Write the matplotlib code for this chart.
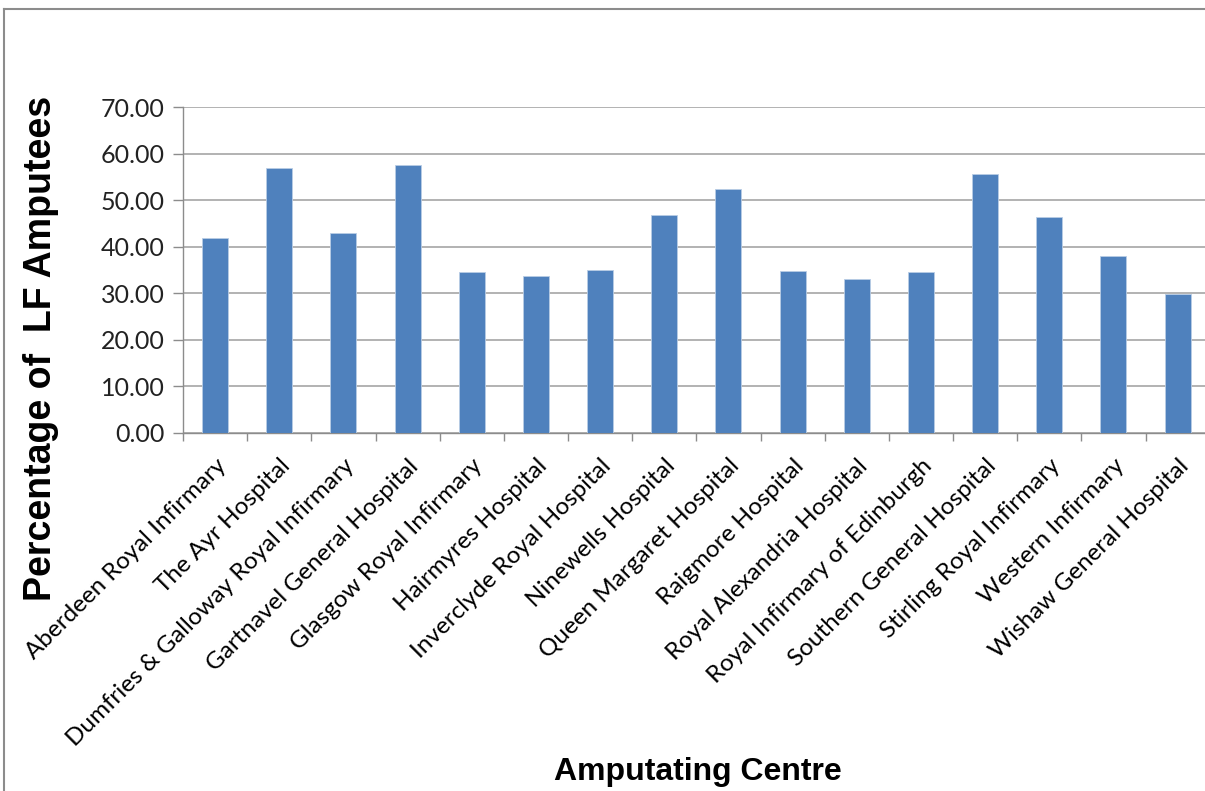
import matplotlib.pyplot as plt
import numpy as np
from matplotlib.lines import Line2D

# Amputating centres and percentage of LF amputees
centres = ['Aberdeen Royal Infirmary', 'The Ayr Hospital',
           'Dumfries & Galloway Royal Infirmary', 'Gartnavel General Hospital',
           'Glasgow Royal Infirmary', 'Hairmyres Hospital',
           'Inverclyde Royal Hospital', 'Ninewells Hospital',
           'Queen Margaret Hospital', 'Raigmore Hospital',
           'Royal Alexandria Hospital', 'Royal Infirmary of Edinburgh',
           'Southern General Hospital', 'Stirling Royal Infirmary',
           'Western Infirmary', 'Wishaw General Hospital']
percent_lf = [41.9, 56.8, 43.0, 57.6, 34.5, 33.7, 35.0, 46.9,
              52.3, 34.7, 33.1, 34.5, 55.7, 46.3, 38.0, 29.9]
y_ticks = [0, 10, 20, 30, 40, 50, 60, 70]

fig = plt.figure(figsize=(12.05, 7.91), dpi=100)
# plot area runs slightly past the right edge, as in the original export
ax = fig.add_axes([0.1519, 0.4526, 0.852, 0.4121])

x = np.arange(len(centres))
ax.bar(x, percent_lf, width=0.405, color='#4F81BD', edgecolor='#B9CDE5',
       linewidth=0.6, zorder=3)

ax.set_xlim(-0.5, len(centres) - 0.5)
ax.set_ylim(0, 70)
ax.set_yticks(y_ticks)
ax.set_yticklabels([f'{v:.2f}' for v in y_ticks], fontfamily='Lato',
                   fontsize=18, color='#222222')
ax.yaxis.grid(True, color='#A6A6A6', linewidth=1.2, zorder=0)

ax.set_xticks(x)
ax.set_xticklabels(centres, rotation=45, ha='right', va='top',
                   rotation_mode='anchor', fontfamily='Lato', fontsize=17.5)
ax.set_xticks(np.arange(len(centres) + 1) - 0.5, minor=True)
ax.tick_params(axis='x', which='major', length=0, pad=16)
ax.tick_params(axis='x', which='minor', length=6, color='#8C8C8C', width=1)
ax.tick_params(axis='y', length=7, color='#8C8C8C', width=1, pad=6)

for side in ['top', 'right']:
    ax.spines[side].set_visible(False)
for side in ['left', 'bottom']:
    ax.spines[side].set_color('#8C8C8C')
    ax.spines[side].set_linewidth(1)

fig.text(0.034, 0.559, 'Percentage of  LF Amputees', rotation=90,
         ha='center', va='center', fontfamily='Liberation Sans',
         fontweight='bold', fontsize=27)
fig.text(0.579, 0.024, 'Amputating Centre', ha='center', va='center',
         fontfamily='Liberation Sans', fontweight='bold', fontsize=23)

# outer chart frame (top and left edges visible)
fig.add_artist(Line2D([0.0035, 1.0], [0.9885, 0.9885], transform=fig.transFigure,
                      color='#8C8C8C', linewidth=1.5))
fig.add_artist(Line2D([0.0035, 0.0035], [0.0, 0.9885], transform=fig.transFigure,
                      color='#8C8C8C', linewidth=1.5))

fig.savefig('out.png', dpi=100)
